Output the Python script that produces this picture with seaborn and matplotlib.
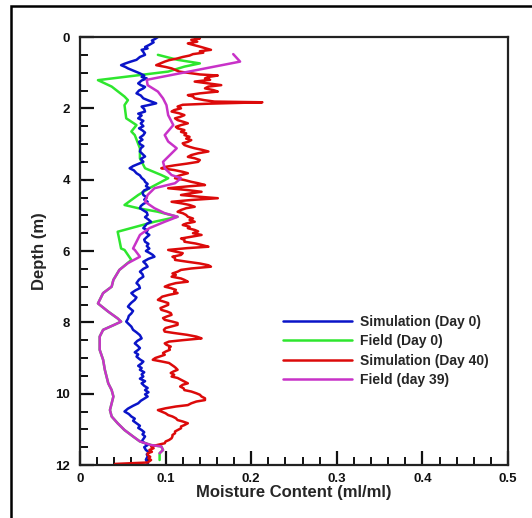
import matplotlib
matplotlib.use("Agg")
import matplotlib.pyplot as plt
import seaborn as sns
import pandas as pd
from matplotlib.patches import Rectangle
from matplotlib.ticker import MultipleLocator

# ---- data (depth in m, moisture content in ml/ml) ----
sim0_depth = [0.00, 0.05, 0.10, 0.15, 0.22, 0.28, 0.32, 0.36, 0.42, 0.50, 0.56, 0.64, 0.70, 0.75, 0.79,
              0.84, 0.88, 0.94, 1.02, 1.08, 1.12, 1.16, 1.22, 1.30, 1.35, 1.40, 1.44, 1.50, 1.58, 1.64,
              1.72, 1.78, 1.86, 1.91, 1.95, 2.02, 2.09, 2.15, 2.20, 2.28, 2.35, 2.42, 2.50, 2.56, 2.62,
              2.68, 2.75, 2.82, 2.88, 2.94, 3.00, 3.06, 3.12, 3.21, 3.28, 3.35, 3.42, 3.50, 3.56, 3.62,
              3.68, 3.74, 3.82, 3.88, 3.95, 4.01, 4.06, 4.12, 4.18, 4.24, 4.30, 4.36, 4.43, 4.50, 4.56,
              4.62, 4.68, 4.74, 4.80, 4.86, 4.92, 4.99, 5.05, 5.12, 5.18, 5.24, 5.30, 5.36, 5.42, 5.48,
              5.55, 5.61, 5.68, 5.74, 5.80, 5.86, 5.93, 6.00, 6.05, 6.11, 6.16, 6.22, 6.30, 6.37, 6.44,
              6.50, 6.58, 6.65, 6.72, 6.80, 6.90, 6.97, 7.04, 7.10, 7.18, 7.25, 7.30, 7.37, 7.45, 7.50,
              7.56, 7.62, 7.68, 7.75, 7.82, 7.90, 7.98, 8.05, 8.12, 8.21, 8.28, 8.36, 8.45, 8.52, 8.59,
              8.65, 8.72, 8.77, 8.84, 8.90, 8.96, 9.04, 9.10, 9.15, 9.22, 9.28, 9.33, 9.40, 9.46, 9.52,
              9.58, 9.65, 9.71, 9.78, 9.84, 9.90, 9.96, 10.02, 10.08, 10.14, 10.20, 10.27, 10.34, 10.42,
              10.50, 10.57, 10.64, 10.70, 10.76, 10.83, 10.90, 10.96, 11.02, 11.08, 11.14, 11.20, 11.27,
              11.34, 11.40, 11.44, 11.50, 11.58, 11.65, 11.70, 11.76, 11.85, 11.95, 12.00]
sim0_mc = [0.091, 0.088, 0.084, 0.086, 0.081, 0.076, 0.079, 0.072, 0.074, 0.076, 0.070, 0.066, 0.058,
           0.052, 0.048, 0.053, 0.056, 0.062, 0.070, 0.075, 0.072, 0.078, 0.072, 0.068, 0.071, 0.076,
           0.074, 0.069, 0.066, 0.071, 0.074, 0.080, 0.089, 0.080, 0.072, 0.075, 0.076, 0.068, 0.072,
           0.068, 0.074, 0.071, 0.074, 0.069, 0.073, 0.076, 0.074, 0.070, 0.073, 0.069, 0.070, 0.074,
           0.071, 0.070, 0.073, 0.076, 0.071, 0.074, 0.068, 0.062, 0.058, 0.063, 0.066, 0.070, 0.072,
           0.075, 0.076, 0.079, 0.077, 0.081, 0.075, 0.073, 0.074, 0.078, 0.075, 0.079, 0.074, 0.071,
           0.070, 0.074, 0.078, 0.079, 0.076, 0.080, 0.083, 0.078, 0.076, 0.074, 0.079, 0.077, 0.081,
           0.078, 0.075, 0.076, 0.080, 0.078, 0.081, 0.077, 0.081, 0.085, 0.087, 0.080, 0.074, 0.077,
           0.079, 0.074, 0.070, 0.073, 0.074, 0.069, 0.066, 0.069, 0.070, 0.065, 0.060, 0.063, 0.066,
           0.064, 0.060, 0.058, 0.056, 0.059, 0.062, 0.060, 0.057, 0.056, 0.054, 0.057, 0.060, 0.062,
           0.066, 0.070, 0.072, 0.067, 0.064, 0.067, 0.070, 0.068, 0.064, 0.068, 0.066, 0.070, 0.074,
           0.072, 0.068, 0.072, 0.070, 0.075, 0.072, 0.074, 0.070, 0.076, 0.072, 0.075, 0.079, 0.076,
           0.080, 0.076, 0.079, 0.075, 0.071, 0.068, 0.062, 0.056, 0.052, 0.057, 0.060, 0.064, 0.062,
           0.066, 0.070, 0.068, 0.072, 0.075, 0.073, 0.076, 0.074, 0.072, 0.077, 0.079, 0.075, 0.077,
           0.081, 0.078, 0.079, 0.077, 0.079, 0.080]

field0_depth = [0.5, 0.64, 0.74, 0.83, 0.97, 1.21, 1.39, 1.67, 1.77, 1.91, 2.28, 2.47, 2.65, 2.75,
                3.12, 3.4, 3.68, 3.87, 3.96, 4.24, 4.43, 4.71, 4.8, 4.9, 5.04, 5.18, 5.46, 5.69, 5.93,
                5.97, 6.25, 6.53, 6.81, 7.0, 7.18, 7.47, 7.7, 7.89, 7.98, 8.07, 8.21, 8.4, 8.77, 9.05,
                9.33, 9.71, 9.9, 10.08, 10.27, 10.46, 10.64, 10.83, 11.02, 11.2, 11.34, 11.44, 11.48,
                11.58, 11.67, 11.86]
field0_mc = [0.091, 0.114, 0.140, 0.122, 0.103, 0.021, 0.037, 0.052, 0.056, 0.052, 0.054, 0.066,
             0.060, 0.064, 0.070, 0.070, 0.076, 0.095, 0.103, 0.081, 0.068, 0.052, 0.068, 0.091,
             0.114, 0.087, 0.044, 0.046, 0.048, 0.052, 0.060, 0.046, 0.039, 0.037, 0.027, 0.021,
             0.033, 0.044, 0.048, 0.040, 0.027, 0.023, 0.023, 0.027, 0.029, 0.033, 0.037, 0.039,
             0.037, 0.035, 0.037, 0.044, 0.052, 0.062, 0.070, 0.083, 0.095, 0.097, 0.093, 0.093]

sim40_depth = [0.00, 0.04, 0.08, 0.13, 0.18, 0.22, 0.27, 0.32, 0.36, 0.40, 0.44, 0.48, 0.52, 0.56,
               0.60, 0.65, 0.69, 0.74, 0.79, 0.84, 0.88, 0.93, 0.97, 1.01, 1.05, 1.08, 1.12, 1.16,
               1.20, 1.25, 1.30, 1.35, 1.39, 1.44, 1.49, 1.53, 1.58, 1.63, 1.67, 1.72, 1.77, 1.81,
               1.83, 1.87, 1.90, 1.95, 2.00, 2.05, 2.09, 2.14, 2.19, 2.24, 2.28, 2.33, 2.38, 2.42,
               2.47, 2.52, 2.56, 2.61, 2.66, 2.70, 2.75, 2.80, 2.85, 2.89, 2.94, 2.98, 3.03, 3.08,
               3.12, 3.16, 3.21, 3.26, 3.31, 3.36, 3.40, 3.45, 3.50, 3.55, 3.60, 3.64, 3.68, 3.73,
               3.78, 3.82, 3.87, 3.91, 3.96, 4.01, 4.06, 4.10, 4.15, 4.19, 4.24, 4.29, 4.34, 4.38,
               4.43, 4.48, 4.52, 4.57, 4.62, 4.67, 4.71, 4.76, 4.80, 4.85, 4.90, 4.94, 4.99, 5.04,
               5.09, 5.13, 5.18, 5.23, 5.27, 5.32, 5.36, 5.41, 5.45, 5.50, 5.55, 5.60, 5.65, 5.69,
               5.74, 5.79, 5.83, 5.88, 5.92, 5.97, 6.02, 6.06, 6.11, 6.16, 6.20, 6.25, 6.30, 6.35,
               6.40, 6.44, 6.49, 6.53, 6.58, 6.63, 6.67, 6.72, 6.77, 6.81, 6.86, 6.90, 6.95, 7.00,
               7.04, 7.09, 7.14, 7.18, 7.23, 7.28, 7.32, 7.37, 7.42, 7.46, 7.51, 7.56, 7.60, 7.65,
               7.70, 7.74, 7.79, 7.84, 7.88, 7.93, 7.98, 8.02, 8.07, 8.12, 8.16, 8.21, 8.26, 8.30,
               8.35, 8.40, 8.45, 8.50, 8.54, 8.59, 8.63, 8.68, 8.72, 8.77, 8.82, 8.86, 8.91, 8.96,
               9.00, 9.05, 9.10, 9.14, 9.19, 9.24, 9.28, 9.33, 9.38, 9.42, 9.47, 9.52, 9.56, 9.61,
               9.66, 9.71, 9.75, 9.80, 9.85, 9.90, 9.94, 9.99, 10.03, 10.08, 10.13, 10.18, 10.22,
               10.27, 10.32, 10.36, 10.41, 10.46, 10.50, 10.55, 10.60, 10.64, 10.69, 10.74, 10.78,
               10.83, 10.88, 10.92, 10.97, 11.02, 11.06, 11.11, 11.16, 11.20, 11.25, 11.30, 11.34,
               11.39, 11.44, 11.48, 11.53, 11.58, 11.63, 11.67, 11.72, 11.77, 11.81, 11.86, 11.93,
               11.97]
sim40_mc = [0.134, 0.140, 0.130, 0.137, 0.126, 0.132, 0.140, 0.147, 0.153, 0.140, 0.144, 0.132,
            0.128, 0.120, 0.114, 0.104, 0.099, 0.094, 0.089, 0.100, 0.107, 0.112, 0.116, 0.128,
            0.140, 0.161, 0.150, 0.146, 0.152, 0.134, 0.150, 0.165, 0.150, 0.146, 0.156, 0.161,
            0.140, 0.126, 0.132, 0.134, 0.145, 0.157, 0.213, 0.150, 0.120, 0.114, 0.118, 0.110,
            0.107, 0.116, 0.122, 0.117, 0.111, 0.114, 0.121, 0.126, 0.118, 0.112, 0.114, 0.122,
            0.118, 0.124, 0.122, 0.128, 0.124, 0.130, 0.126, 0.120, 0.122, 0.128, 0.134, 0.142,
            0.150, 0.138, 0.130, 0.126, 0.134, 0.140, 0.138, 0.125, 0.110, 0.100, 0.095, 0.110,
            0.120, 0.126, 0.118, 0.113, 0.111, 0.122, 0.130, 0.138, 0.146, 0.125, 0.103, 0.125,
            0.142, 0.130, 0.118, 0.140, 0.161, 0.130, 0.107, 0.120, 0.128, 0.134, 0.124, 0.118,
            0.114, 0.120, 0.124, 0.126, 0.132, 0.128, 0.134, 0.124, 0.120, 0.128, 0.126, 0.134,
            0.138, 0.132, 0.142, 0.130, 0.118, 0.122, 0.122, 0.135, 0.142, 0.150, 0.125, 0.103,
            0.112, 0.120, 0.118, 0.108, 0.111, 0.111, 0.125, 0.140, 0.150, 0.153, 0.130, 0.118,
            0.114, 0.108, 0.112, 0.107, 0.118, 0.122, 0.126, 0.112, 0.104, 0.099, 0.106, 0.112,
            0.110, 0.114, 0.104, 0.096, 0.094, 0.091, 0.098, 0.103, 0.103, 0.098, 0.094, 0.095,
            0.102, 0.106, 0.107, 0.101, 0.097, 0.099, 0.108, 0.114, 0.114, 0.106, 0.100, 0.098,
            0.099, 0.110, 0.125, 0.136, 0.142, 0.120, 0.104, 0.099, 0.101, 0.106, 0.104, 0.105,
            0.100, 0.097, 0.099, 0.093, 0.088, 0.085, 0.096, 0.104, 0.107, 0.110, 0.112, 0.114,
            0.109, 0.106, 0.110, 0.107, 0.114, 0.118, 0.122, 0.126, 0.120, 0.117, 0.121, 0.122,
            0.130, 0.136, 0.140, 0.142, 0.146, 0.146, 0.136, 0.130, 0.126, 0.112, 0.100, 0.091,
            0.095, 0.100, 0.103, 0.108, 0.112, 0.114, 0.120, 0.126, 0.122, 0.118, 0.118, 0.114,
            0.111, 0.111, 0.108, 0.108, 0.107, 0.104, 0.100, 0.099, 0.090, 0.083, 0.086, 0.081,
            0.084, 0.079, 0.079, 0.082, 0.080, 0.083, 0.079, 0.041]

field39_depth = [0.48, 0.69, 1.2, 1.35, 1.53, 1.72, 1.91, 2.19, 2.47, 2.75, 2.93, 3.12, 3.31, 3.5,
                 3.68, 3.87, 3.96, 4.1, 4.24, 4.43, 4.62, 4.8, 4.94, 5.04, 5.18, 5.36, 5.55, 5.74,
                 5.93, 5.97, 6.16, 6.34, 6.53, 6.81, 7.0, 7.18, 7.47, 7.7, 7.89, 7.98, 8.07, 8.21,
                 8.4, 8.77, 9.05, 9.33, 9.71, 9.9, 10.08, 10.27, 10.46, 10.64, 10.83, 11.02, 11.2,
                 11.34, 11.44, 11.48, 11.58, 11.67]
field39_mc = [0.179, 0.187, 0.078, 0.079, 0.091, 0.097, 0.101, 0.103, 0.109, 0.099, 0.103, 0.113,
              0.105, 0.097, 0.099, 0.107, 0.118, 0.111, 0.087, 0.079, 0.076, 0.087, 0.099, 0.114,
              0.099, 0.081, 0.070, 0.066, 0.062, 0.064, 0.070, 0.056, 0.046, 0.039, 0.037, 0.027,
              0.021, 0.033, 0.044, 0.048, 0.040, 0.027, 0.023, 0.023, 0.027, 0.029, 0.033, 0.037,
              0.039, 0.037, 0.035, 0.037, 0.044, 0.052, 0.062, 0.070, 0.083, 0.095, 0.097, 0.093]

series_labels = ["Simulation (Day 0)", "Field (Day 0)", "Simulation (Day 40)", "Field (day 39)"]
x_ticks = [0, 0.1, 0.2, 0.3, 0.4, 0.5]
x_tick_labels = ["0", "0.1", "0.2", "0.3", "0.4", "0.5"]
y_ticks = [0, 2, 4, 6, 8, 10, 12]
y_tick_labels = ["0", "2", "4", "6", "8", "10", "12"]

# ---- style ----
sns.set_style("white")
plt.rcParams["font.family"] = ["Liberation Sans", "DejaVu Sans"]
plt.rcParams["font.weight"] = "bold"

W, H = 532, 518
fig = plt.figure(figsize=(W / 100, H / 100), dpi=100)
ax = fig.add_axes([80 / W, 1 - 465 / H, 428 / W, 428 / H])

colors = ["#0a14c8", "#2ee62e", "#dc0a0a", "#c832c8"]
order = [
    (field0_depth, field0_mc, 1),
    (sim0_depth, sim0_mc, 0),
    (sim40_depth, sim40_mc, 2),
    (field39_depth, field39_mc, 3),
]
for d, m, i in order:
    df = pd.DataFrame({"mc": m, "depth": d})
    sns.lineplot(data=df, x="mc", y="depth", sort=False, estimator=None,
                 color=colors[i], linewidth=1.8, ax=ax, label=series_labels[i])

ax.set_xlim(0, 0.5)
ax.set_ylim(12, 0)
ax.set_xticks(x_ticks)
ax.set_xticklabels(x_tick_labels)
ax.set_yticks(y_ticks)
ax.set_yticklabels(y_tick_labels)
ax.xaxis.set_minor_locator(MultipleLocator(0.02))
ax.yaxis.set_minor_locator(MultipleLocator(0.5))
ax.tick_params(which="major", direction="in", length=10, width=1.6, labelsize=9.5,
               top=False, right=False, bottom=True, left=True, colors="#111111")
ax.tick_params(which="minor", direction="in", length=5.5, width=1.4,
               top=False, right=False, bottom=True, left=True, colors="#111111")
ax.tick_params(axis="x", which="major", pad=6)
ax.tick_params(axis="y", which="major", pad=7)
for lab in ax.get_xticklabels() + ax.get_yticklabels():
    lab.set_fontweight("bold")
for s in ax.spines.values():
    s.set_linewidth(1.6)
    s.set_color("#222222")

ax.set_xlabel("Moisture Content (ml/ml)", fontsize=12, fontweight="bold", labelpad=0)
ax.set_ylabel("Depth (m)", fontsize=12, fontweight="bold", labelpad=6)

h, l = ax.get_legend_handles_labels()
hmap = dict(zip(l, h))
ax.legend([hmap[s] for s in series_labels], series_labels, loc="upper left",
          bbox_to_anchor=(283 / W, 1 - 315 / H), bbox_transform=fig.transFigure,
          frameon=False, borderpad=0, borderaxespad=0, handlelength=5.0,
          handletextpad=0.55, labelspacing=0.38, prop={"weight": "bold", "size": 10})

# outer frame
fig.patches.append(Rectangle((11 / W, -0.05), 1.2, 1 - 6 / H + 0.05, transform=fig.transFigure,
                             fill=False, edgecolor="black", linewidth=1.8))

fig.savefig("out.png", dpi=100)
